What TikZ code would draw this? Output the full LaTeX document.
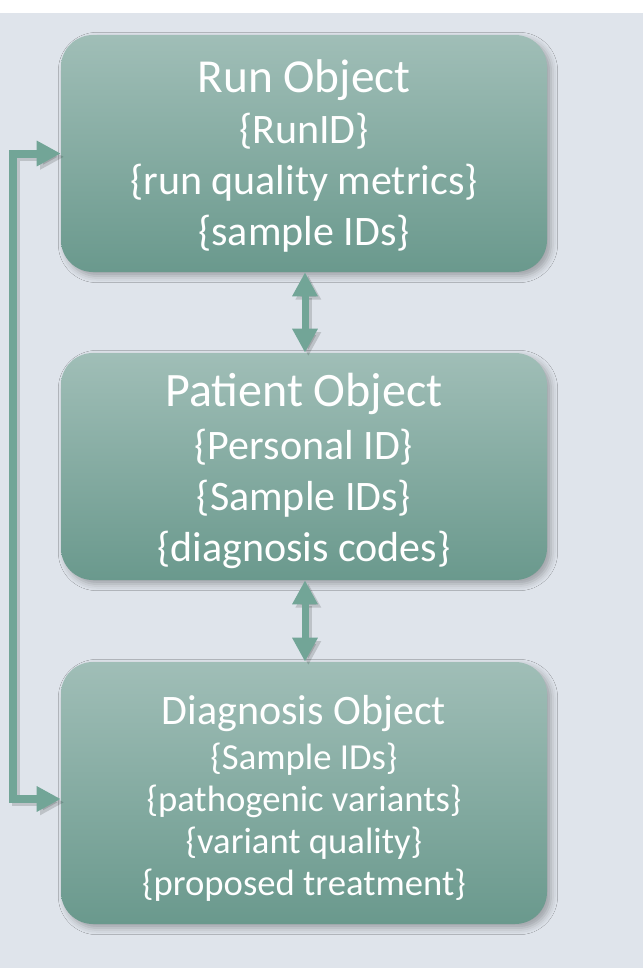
\documentclass[tikz,border=0pt]{standalone}
\usepackage{fontspec}
\setmainfont{Carlito}
\usetikzlibrary{arrows.meta,shadows.blur}
\definecolor{bgc}{HTML}{DFE4EB}
\definecolor{boxtop}{HTML}{A0BEB7}
\definecolor{boxbot}{HTML}{6A998D}
\definecolor{arrc}{HTML}{72A597}
\tikzset{
  objbox/.style={rounded corners=24pt, top color=boxtop, bottom color=boxbot, draw=none,
    minimum width=364.5pt, inner sep=0pt, align=center, text=white,
    blur shadow={shadow xshift=3pt, shadow yshift=-3pt, shadow blur radius=5pt, shadow opacity=30}},
  vconn/.style={draw=arrc, line width=5.25pt, {Triangle[width=18pt,length=18pt]}-{Triangle[width=18pt,length=18pt]}},
  lconn/.style={draw=arrc, line width=6pt, line join=miter, {Triangle[width=18pt,length=18pt]}-{Triangle[width=18pt,length=18pt]}},
}
\begin{document}
\begin{tikzpicture}[x=0.75pt,y=-0.75pt]
\useasboundingbox (0,0) rectangle (643,968);
\fill[white] (0,0) rectangle (643,968);
\fill[bgc] (0,13) rectangle (643,968);

\node[objbox, minimum height=177.75pt] (run) at (304,153.5) {};
\node[text=white, align=center, inner sep=0pt, font=\fontsize{31.5}{38.25}\selectfont] (runtxt) at ([yshift=-2pt]run.center)
 {{\fontsize{35.5}{38.25}\selectfont Run Object}\\ \{RunID\}\\ \{run quality metrics\}\\ \{sample IDs\}};

\node[objbox, minimum height=170.25pt] (pat) at (304,466.5) {};
\node[text=white, align=center, inner sep=0pt, font=\fontsize{31.5}{38.25}\selectfont] (pattxt) at ([yshift=-3pt]pat.center)
 {{\fontsize{36}{38.25}\selectfont Patient Object}\\[1.5pt] \{Personal ID\}\\ \{Sample IDs\}\\ \{diagnosis codes\}};

\node[objbox, minimum height=196.5pt] (dia) at (304,793) {};
\node[text=white, align=center, inner sep=0pt, font=\fontsize{27.5}{31.5}\selectfont] (diatxt) at ([yshift=-4pt]dia.center)
 {{\fontsize{31.5}{31.5}\selectfont Diagnosis Object}\\[2.25pt] \{Sample IDs\}\\ \{pathogenic variants\}\\ \{variant quality\}\\ \{proposed treatment\}};

\coordinate (lx) at (13,500);

% shadows of connectors
\begin{scope}[transform canvas={xshift=2.5pt,yshift=-2.5pt}]
\draw[vconn, draw=black, opacity=0.15] ([xshift=0.75pt]run.south) -- ([xshift=0.75pt]pat.north);
\draw[vconn, draw=black, opacity=0.15] ([xshift=0.75pt]pat.south) -- ([xshift=0.75pt]dia.north);
\draw[lconn, draw=black, opacity=0.15] (run.west) -| (lx) |- ([yshift=-4.5pt]dia.west);
\end{scope}

\draw[vconn] ([xshift=0.75pt]run.south) -- ([xshift=0.75pt]pat.north);
\draw[vconn] ([xshift=0.75pt]pat.south) -- ([xshift=0.75pt]dia.north);
\draw[lconn] (run.west) -| (lx) |- ([yshift=-4.5pt]dia.west);
\end{tikzpicture}
\end{document}
